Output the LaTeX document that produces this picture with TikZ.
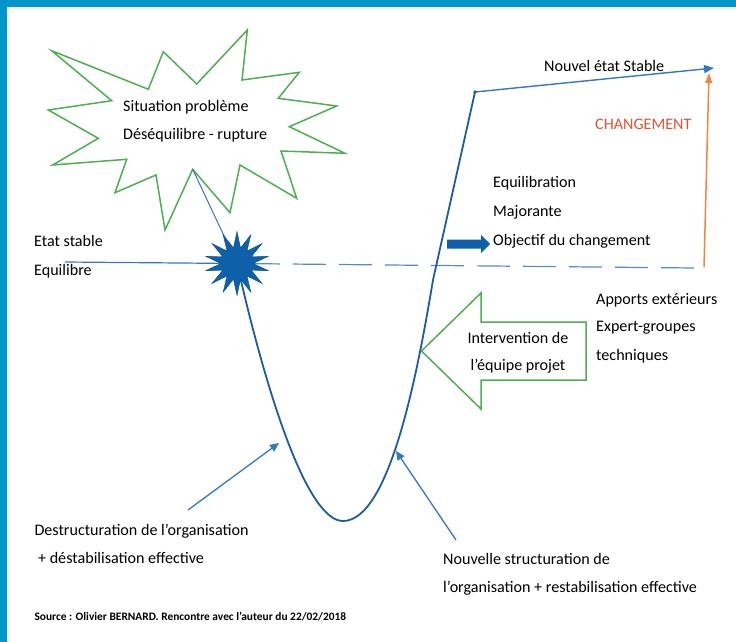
\documentclass[tikz,border=0pt]{standalone}
\usepackage{fontspec}
\setmainfont{Carlito}
\usepackage{tikz}
\usetikzlibrary{arrows.meta}
\usetikzlibrary{shapes.geometric}
\usetikzlibrary{positioning}
\definecolor{mframe}{RGB}{0, 150, 204}
\definecolor{mgreen}{RGB}{76, 175, 80}
\definecolor{mblue}{RGB}{30, 92, 160}
\definecolor{mline}{RGB}{52, 120, 190}
\definecolor{mdash}{RGB}{80, 140, 205}
\definecolor{morange}{RGB}{244, 132, 64}
\definecolor{mred}{RGB}{226, 84, 48}
\definecolor{mstar}{RGB}{14, 96, 170}
\tikzset{lbl/.style = {anchor = base west, inner sep = 0, text = black, font = \fontsize{16.1}{18}\selectfont}}
\tikzset{ptr/.style = {-{Triangle[length = 9, width = 8]}, mline, line width = 1.3}}
\tikzset{boom/.style = {star, star points = 14, star point ratio = 2, minimum size = 64, inner sep = 0, fill = mstar, draw = mstar!80!black}}

\begin{document}
\begin{tikzpicture}[x=1pt, y=-1pt]
  \useasboundingbox (0, 0) rectangle (736, 642);
  \fill [mframe] (0, 0) rectangle (736, 7.5);
  \fill [mframe] (0, 0) rectangle (6.5, 642);

  % situation probleme
  \draw [mgreen, line width = 1.5] (51.7, 50.7) -- (148.3, 89.3) -- (163.3, 51.7) -- (196.7, 84)
    -- (247.3, 30) -- (242, 80) -- (299.3, 72.3) -- (278.3, 98.3) -- (336.7, 106) -- (289.3, 126.7)
    -- (345, 153.3) -- (281, 151) -- (296.7, 198.3) -- (240, 165) -- (230, 212.7) -- (192.7, 169.3)
    -- (165, 230) -- (156, 175) -- (115, 192.7) -- (126.7, 159.3) -- (52.7, 165) -- (98.3, 138.3)
    -- (48.3, 110) -- (111.7, 100.7) -- cycle;
  \node [lbl] (situation) at (123, 111) {Situation problème};
  \node [lbl] (rupture) at (123, 139.5) {Déséquilibre - rupture};

  \coordinate (burst) at (192.7, 169.3);
  \coordinate (impact) at (237, 263.5);
  \coordinate (etat) at (65, 262);
  \coordinate (stable) at (694, 268);
  \coordinate (creux) at (343, 521);
  \coordinate (remonte) at (433, 280);
  \coordinate (sommet) at (475, 92);
  \coordinate (nouvel) at (714, 68);

  \node [lbl] (etatstable) at (34, 246) {Etat stable};
  \node [lbl] (equilibre) at (34, 275) {Equilibre};

  \draw [mline, line width = 1] (burst) -- (impact);
  \draw [mline, line width = 1.2] (etat) -- (impact);
  \draw [mdash, line width = 1.2, dash pattern = on 33 off 13, dash phase = 36] (impact) -- (stable);

  % la courbe
  \draw [mblue, line width = 1.8] (impact) .. controls (268, 400) and (308, 521) .. (creux)
    .. controls (390, 521) and (418, 370) .. (remonte) -- (sommet);
  \draw [-{Triangle[length = 10, width = 8]}, mline, line width = 1.4] (sommet) -- (nouvel);
  \fill [mblue] (sommet) circle (1.8);

  \node [boom] (choc) at (impact) {};

  \node [lbl] (nouveau) at (544, 71.3) {Nouvel état Stable};

  % changement
  \coordinate (base) at (704, 267);
  \coordinate (cible) at (709, 73);
  \draw [-{Triangle[length = 10, width = 7]}, morange, line width = 1.5] (base) -- (cible);
  \node [lbl, text = mred] (changement) at (595, 129.3) {CHANGEMENT};

  \node [lbl] (equilibration) at (493, 187.3) {Equilibration};
  \node [lbl] (majorante) at (493, 216) {Majorante};
  \node [lbl] (objectif) at (493, 245) {Objectif du changement};
  \fill [mstar] (447, 239.5) -- (481, 239.5) -- (481, 235) -- (490, 244) -- (481, 253)
    -- (481, 248.5) -- (447, 248.5) -- cycle;

  % intervention
  \draw [mgreen, line width = 1.5] (421.5, 351) -- (481, 293) -- (481, 322) -- (586, 322)
    -- (586, 380) -- (481, 380) -- (481, 409) -- cycle;
  \node [lbl, anchor = base] (intervention) at (518, 343.3) {Intervention de};
  \node [lbl, anchor = base] (equipe) at (518, 370) {l’équipe projet};

  \node [lbl] (apports) at (596, 304) {Apports extérieurs};
  \node [lbl] (expert) at (596, 331.7) {Expert-groupes};
  \node [lbl] (techniques) at (596, 360.7) {techniques};

  % destructuration / restructuration
  \node [lbl] (destructuration) at (34.3, 535) {Destructuration de l’organisation};
  \node [lbl] (destabilisation) at (34.3, 563.3) {\ + déstabilisation effective};
  \coordinate (d0) at (188, 510);
  \coordinate (d1) at (279, 443);
  \draw [ptr] (d0) -- (d1);

  \node [lbl] (nouvelle) at (443, 564) {Nouvelle structuration de};
  \node [lbl] (restabilisation) at (443, 592.7) {l’organisation + restabilisation effective};
  \coordinate (n0) at (456, 540);
  \coordinate (n1) at (396, 451);
  \draw [ptr] (n0) -- (n1);

  \node [lbl, font = \bfseries\fontsize{11.4}{12}\selectfont] (source) at (34.3, 620.7)
    {Source : Olivier BERNARD. Rencontre avec l’auteur du 22/02/2018};
\end{tikzpicture}
\end{document}
